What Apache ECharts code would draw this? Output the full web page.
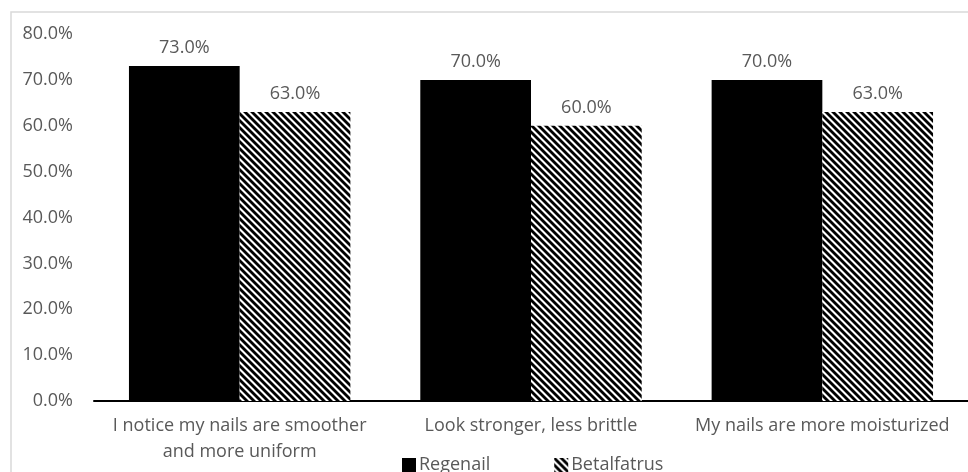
<!DOCTYPE html>
<html><head><meta charset="utf-8">
<script src="https://cdn.jsdelivr.net/npm/echarts@6/dist/echarts.min.js"></script>
<style>html,body{margin:0;padding:0;background:#fff}#c{width:968px;height:472px}</style>
</head><body><div id="c"></div>
<script>
var categories = ['I notice my nails are smoother\nand more uniform', 'Look stronger, less brittle', 'My nails are more moisturized'];
var seriesNames = ['Regenail', 'Betalfatrus'];
var regenail = [73, 70, 70];
var betalfatrus = [63, 60, 63];
var yTicks = {min: 0, max: 80, interval: 10};

function hatch() {
  var s = 7, c = document.createElement('canvas');
  c.width = s; c.height = s;
  var g = c.getContext('2d');
  g.fillStyle = '#fff'; g.fillRect(0, 0, s, s);
  g.strokeStyle = '#000'; g.lineWidth = 2.8;
  for (var k = -1; k <= 1; k++) {
    g.beginPath(); g.moveTo(k * s - 1, -1); g.lineTo(k * s + s + 1, s + 1); g.stroke();
  }
  return c;
}
var pat = {image: hatch(), repeat: 'repeat'};
var font = '"Open Sans", sans-serif';
var gray = '#595959';
var fs = 18;
var chart = echarts.init(document.getElementById('c'));
chart.setOption({
  animation: false,
  textStyle: {fontFamily: font},
  graphic: [{type: 'rect', shape: {x: 11, y: 12, width: 980, height: 500}, style: {fill: 'none', stroke: '#d9d9d9', lineWidth: 1.5}}],
  grid: {left: 94, right: 0, top: 34, bottom: 71},
  legend: {top: 451, left: 397, itemWidth: 14, itemHeight: 14, itemGap: 64,
    textStyle: {color: gray, fontSize: fs, fontFamily: font, padding: [0, 0, 0, -2]},
    data: seriesNames.map(function(n){return {name: n, icon: 'rect'};})},
  xAxis: {type: 'category', data: categories,
    axisLine: {lineStyle: {color: '#000', width: 2}}, axisTick: {show: false},
    axisLabel: {color: gray, fontSize: fs, lineHeight: 26, margin: 12, interval: 0}},
  yAxis: {type: 'value', min: yTicks.min, max: yTicks.max, interval: yTicks.interval,
    splitLine: {show: false}, axisLine: {show: false},
    axisLabel: {color: gray, fontSize: fs, margin: 21, formatter: function(v){return v.toFixed(1) + '%';}}},
  series: [
    {name: seriesNames[0], type: 'bar', data: regenail, barGap: '0%', barCategoryGap: '24%',
     itemStyle: {color: '#000'},
     label: {show: true, position: 'top', distance: 9, color: gray, fontSize: fs, formatter: function(p){return p.value.toFixed(1) + '%';}}},
    {name: seriesNames[1], type: 'bar', data: betalfatrus,
     itemStyle: {color: pat},
     label: {show: true, position: 'top', distance: 9, color: gray, fontSize: fs, formatter: function(p){return p.value.toFixed(1) + '%';}}}
  ]
});
</script></body></html>
